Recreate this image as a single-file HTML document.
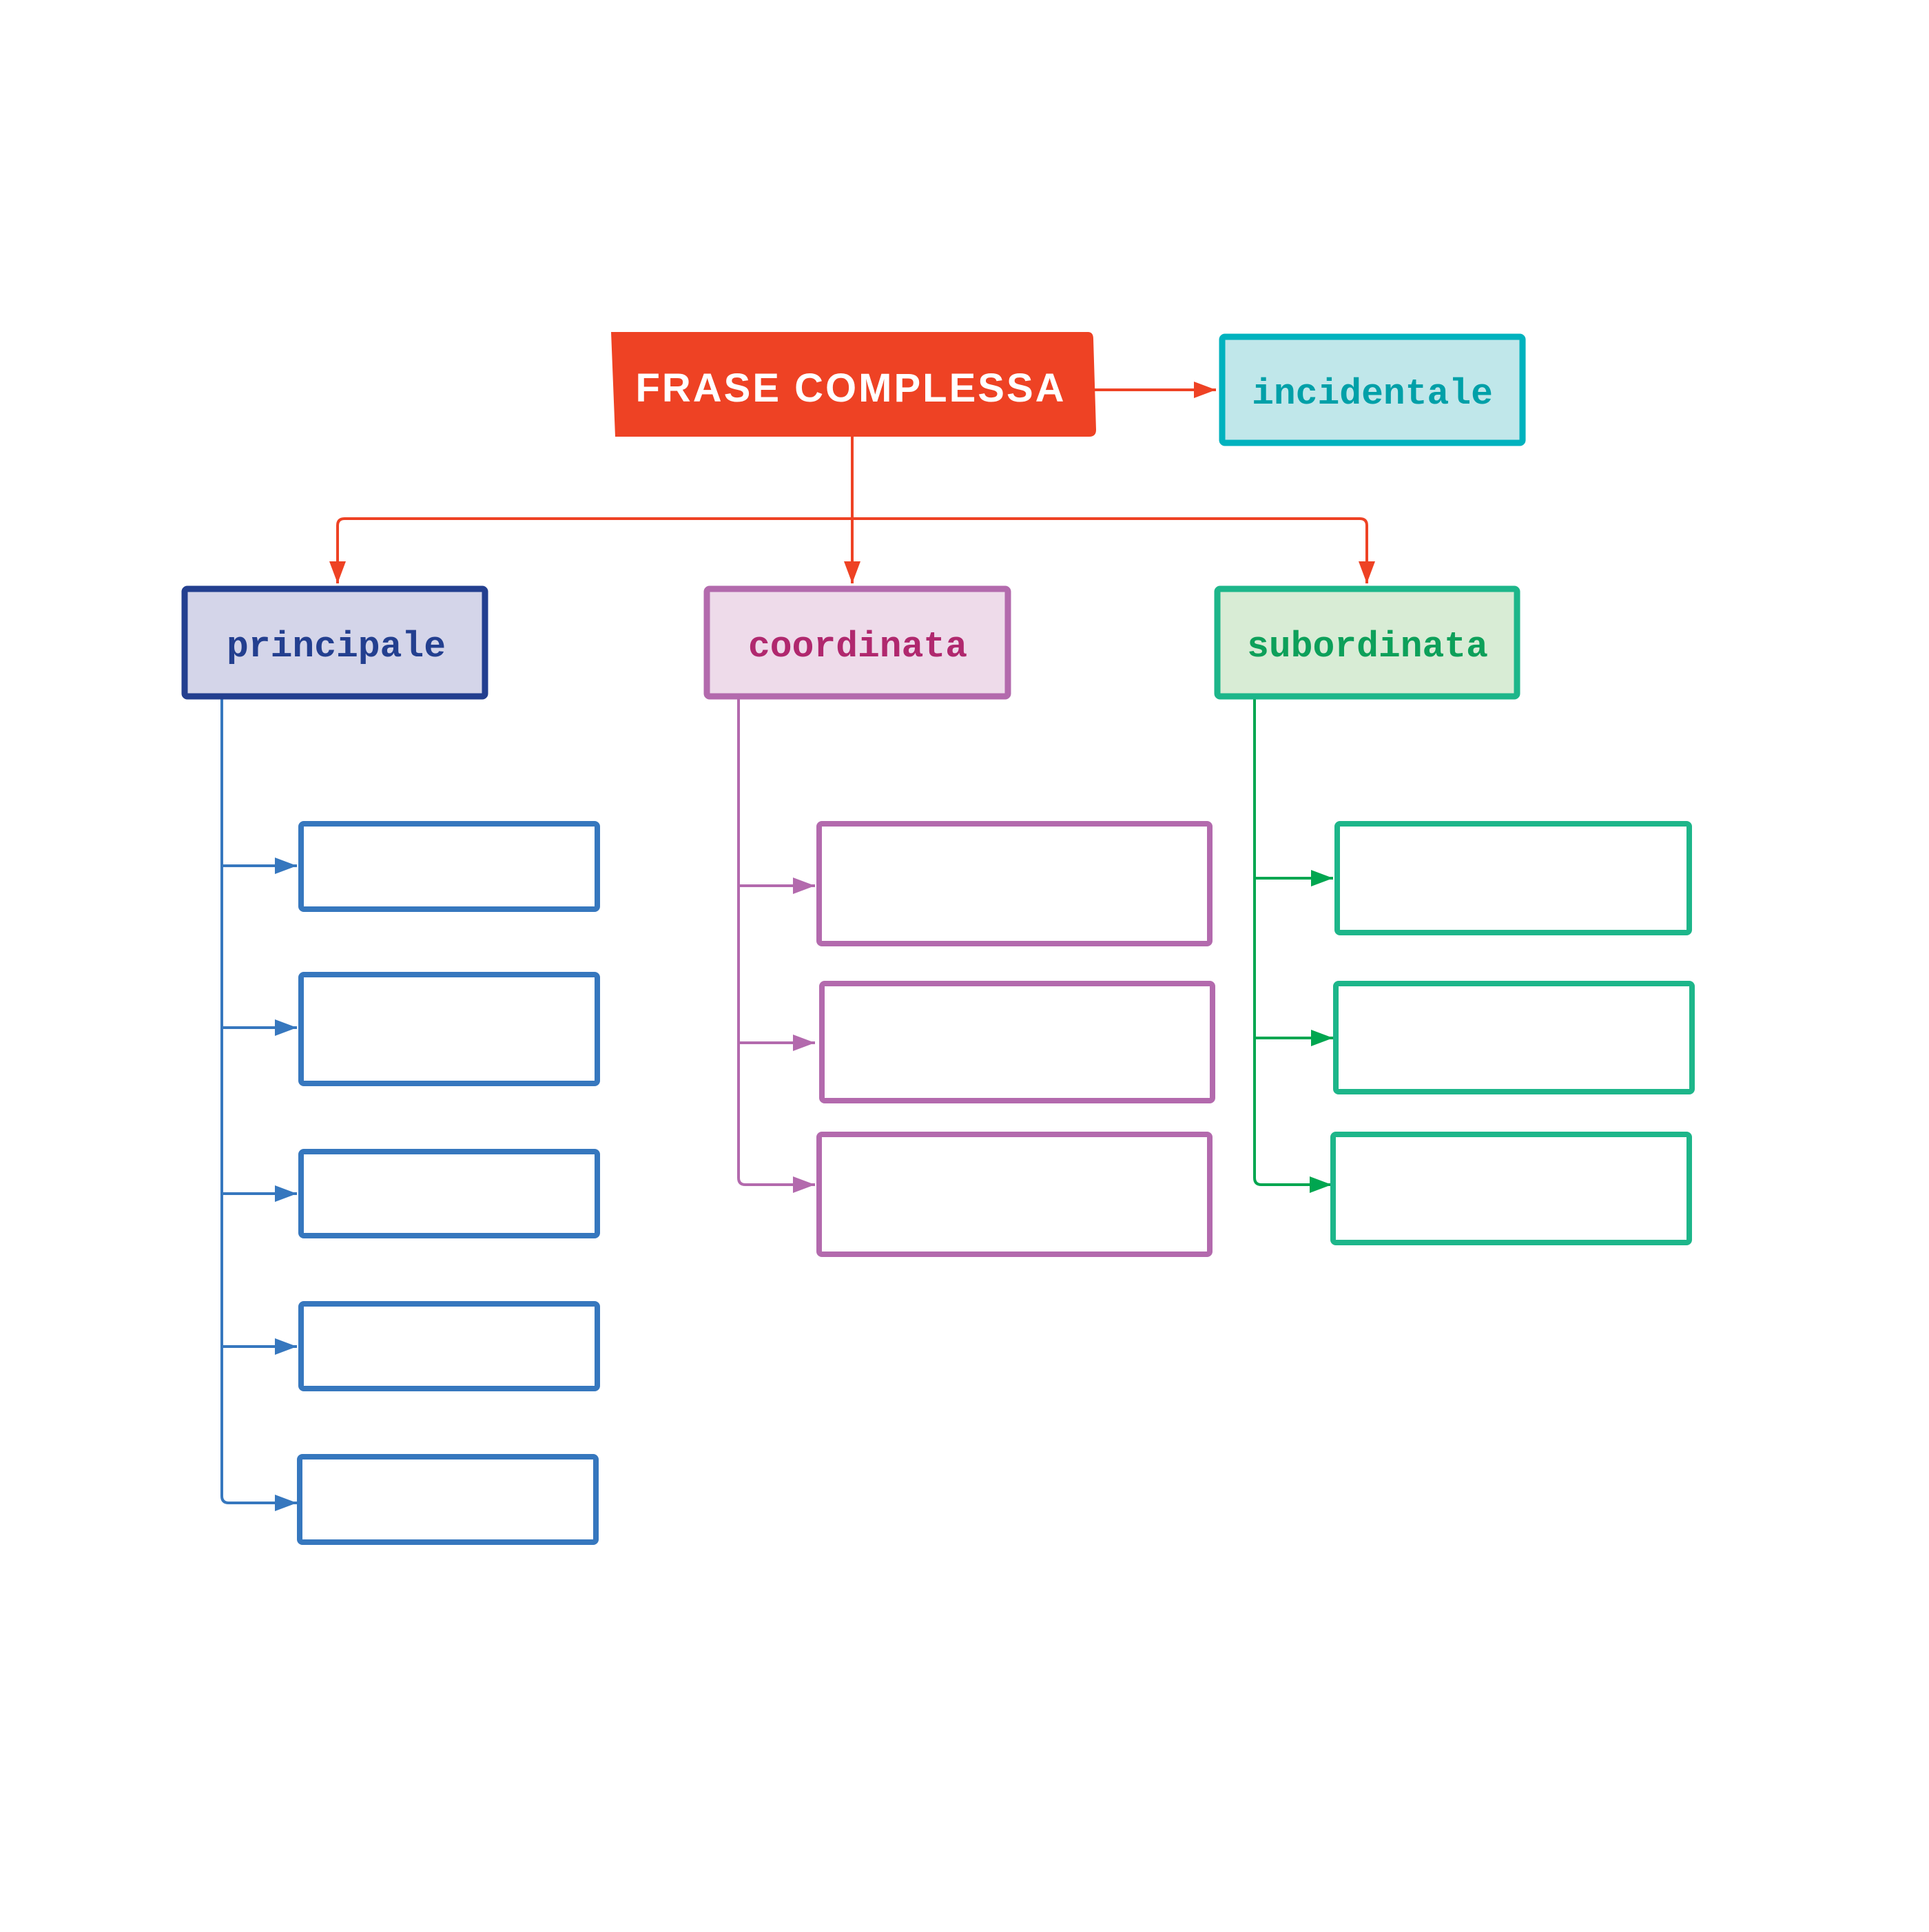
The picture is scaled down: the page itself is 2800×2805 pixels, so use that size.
<!DOCTYPE html>
<html><head><meta charset="utf-8"><style>html,body{margin:0;padding:0;background:#fff}</style></head>
<body>
<svg width="2800" height="2800" viewBox="0 0 2800 2800" xmlns="http://www.w3.org/2000/svg">
<defs>
<marker id="ar" markerWidth="8" markerHeight="6" refX="8" refY="3" orient="auto" markerUnits="strokeWidth"><path d="M0,0 L8,3 L0,6 z" fill="#EE4224"/></marker>
<marker id="ab" markerWidth="8" markerHeight="6" refX="8" refY="3" orient="auto" markerUnits="strokeWidth"><path d="M0,0 L8,3 L0,6 z" fill="#3677BE"/></marker>
<marker id="ap" markerWidth="8" markerHeight="6" refX="8" refY="3" orient="auto" markerUnits="strokeWidth"><path d="M0,0 L8,3 L0,6 z" fill="#B36AAD"/></marker>
<marker id="ag" markerWidth="8" markerHeight="6" refX="8" refY="3" orient="auto" markerUnits="strokeWidth"><path d="M0,0 L8,3 L0,6 z" fill="#00A650"/></marker>
</defs>
<g transform="translate(-5,-3)">
<g fill="none" stroke-width="4">
<line x1="1594" y1="569" x2="1770" y2="569" stroke="#EE4224" marker-end="url(#ar)"/>
<line x1="1242" y1="637" x2="1242" y2="850" stroke="#EE4224" marker-end="url(#ar)"/>
<path d="M1242,756 H505 Q495,756 495,766 V850" stroke="#EE4224" marker-end="url(#ar)"/>
<path d="M1242,756 H1979 Q1989,756 1989,766 V850" stroke="#EE4224" marker-end="url(#ar)"/>
<path d="M327,1018 V2175 Q327,2185 337,2185 H436" stroke="#3677BE" marker-end="url(#ab)"/>
<line x1="327" y1="1260" x2="436" y2="1260" stroke="#3677BE" marker-end="url(#ab)"/>
<line x1="327" y1="1495" x2="436" y2="1495" stroke="#3677BE" marker-end="url(#ab)"/>
<line x1="327" y1="1736" x2="436" y2="1736" stroke="#3677BE" marker-end="url(#ab)"/>
<line x1="327" y1="1958" x2="436" y2="1958" stroke="#3677BE" marker-end="url(#ab)"/>
<path d="M1077,1018 V1713 Q1077,1723 1087,1723 H1188" stroke="#B36AAD" marker-end="url(#ap)"/>
<line x1="1077" y1="1289" x2="1188" y2="1289" stroke="#B36AAD" marker-end="url(#ap)"/>
<line x1="1077" y1="1517" x2="1188" y2="1517" stroke="#B36AAD" marker-end="url(#ap)"/>
<path d="M1826,1018 V1713 Q1826,1723 1836,1723 H1938" stroke="#00A650" marker-end="url(#ag)"/>
<line x1="1826" y1="1278" x2="1940" y2="1278" stroke="#00A650" marker-end="url(#ag)"/>
<line x1="1826" y1="1510" x2="1940" y2="1510" stroke="#00A650" marker-end="url(#ag)"/>
</g>
<path d="M892,485 H1584 Q1592,485 1592,495 L1596,627 Q1596,637 1586,637 H898 Z" fill="#EE4224"/>
<text x="1240" y="586" text-anchor="middle" font-family="Liberation Sans, sans-serif" font-weight="bold" font-size="58" letter-spacing="3" fill="#fff">FRASE COMPLESSA</text>
<g stroke-width="9" stroke-linejoin="round">
<rect x="1779" y="492" width="436" height="154" rx="4" fill="#C0E7EA" stroke="#00B2BE"/>
<rect x="273" y="858" width="436" height="156" rx="4" fill="#D4D5E9" stroke="#233F8F"/>
<rect x="1031" y="858" width="437" height="156" rx="4" fill="#EEDBEA" stroke="#B36AAD"/>
<rect x="1772" y="858" width="435" height="156" rx="4" fill="#D8ECD5" stroke="#1DB68A"/>
</g>
<g font-family="Liberation Mono, monospace" font-weight="bold" font-size="53" text-anchor="middle">
<text x="1997" y="589" fill="#00A0A8">incidentale</text>
<text x="493" y="956" fill="#233F8F">principale</text>
<text x="1250" y="956" fill="#B0286E">coordinata</text>
<text x="1990" y="956" fill="#0DA05A">subordinata</text>
</g>
<g fill="#fff" stroke-width="8" stroke-linejoin="round">
<g stroke="#3677BE">
<rect x="442" y="1199" width="430" height="124" rx="4"/>
<rect x="442" y="1418" width="430" height="158" rx="4"/>
<rect x="442" y="1675" width="430" height="122" rx="4"/>
<rect x="442" y="1896" width="430" height="123" rx="4"/>
<rect x="440" y="2118" width="430" height="124" rx="4"/>
</g>
<g stroke="#B36AAD">
<rect x="1194" y="1199" width="567" height="174" rx="4"/>
<rect x="1198" y="1431" width="567" height="170" rx="4"/>
<rect x="1194" y="1650" width="567" height="174" rx="4"/>
</g>
<g stroke="#1DB68A">
<rect x="1946" y="1199" width="511" height="158" rx="4"/>
<rect x="1944" y="1431" width="517" height="157" rx="4"/>
<rect x="1940" y="1650" width="517" height="157" rx="4"/>
</g>
</g>
</g>
</svg>
</body></html>
